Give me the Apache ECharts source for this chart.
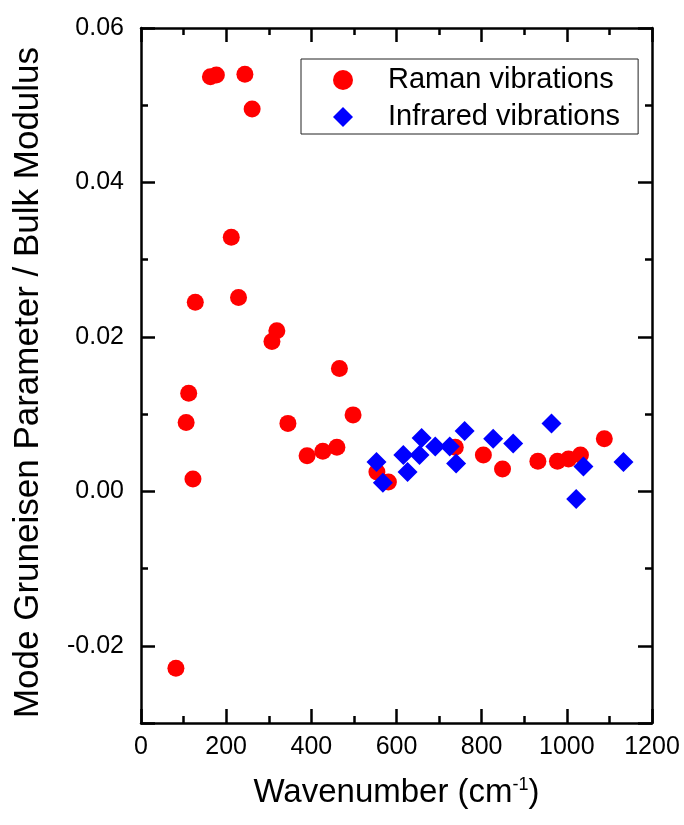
<!DOCTYPE html>
<html>
<head>
<meta charset="utf-8">
<script src="https://cdn.jsdelivr.net/npm/echarts@6/dist/echarts.min.js"></script>
<style>html,body{margin:0;padding:0;background:#fff}#c{width:684px;height:825px}</style>
</head>
<body>
<div id="c"></div>
<script>
const ramanX = [82,106,112,122,127.5,163,177,212,229,244,261,307.5,319,345,390,427,460,466,498,554,581,738,804,849,932,978,1004,1032,1088];
const ramanY = [-0.0229,0.0089,0.0127,0.0016,0.0245,0.0537,0.0539,0.0329,0.0251,0.054,0.0495,0.0194,0.0208,0.0088,0.0046,0.0052,0.0057,0.0159,0.0099,0.0025,0.0012,0.0057,0.0047,0.0029,0.0039,0.0039,0.0042,0.0047,0.0068];
const irX = [553,568,616,626,654,659,691,725,740,760,827,874,964,1022,1039,1133];
const irY = [0.0038,0.0011,0.0047,0.0025,0.0047,0.0069,0.0058,0.0058,0.0036,0.0078,0.0068,0.0062,0.0088,-0.0010,0.0032,0.0038];
const seriesNames = ['Raman vibrations','Infrared vibrations'];
const xTitle = 'Wavenumber (cm{sup|-1})';
const yTitle = 'Mode Gruneisen Parameter / Bulk Modulus';

const FONT = 'Liberation Sans, Arial, sans-serif';
const chart = echarts.init(document.getElementById('c'));
const lineStyle = {color:'#000', width:2.5};
function xAx(pos, labels){
  return {
    type:'value', position:pos, min:0, max:1200, interval:200,
    axisLine:{show:true, onZero:false, lineStyle}, splitLine:{show:false},
    axisTick:{show:true, inside:true, length:14, lineStyle},
    minorTick:{show:true, splitNumber:2, length:7, lineStyle},
    axisLabel:{show:labels, margin:12, fontSize:25, color:'#000', fontFamily:FONT,
      formatter: v => String(v)},
    name: labels ? xTitle : '', nameLocation:'middle', nameGap:53,
    nameTextStyle:{fontSize:33, color:'#000', fontFamily:FONT,
      rich:{sup:{fontSize:18, color:'#000', fontFamily:FONT, verticalAlign:'top', lineHeight:14}}}
  };
}
function yMajor(pos, labels){
  return {
    type:'value', position:pos, min:-0.03, max:0.06,
    axisLine:{show:true, onZero:false, lineStyle}, splitLine:{show:false},
    axisTick:{show:true, inside:true, length:14, lineStyle},
    axisLabel:{show:labels, margin:17, fontSize:25, color:'#000', fontFamily:FONT,
      formatter: v => v < -0.025 ? '' : v.toFixed(2)},
    name: labels ? yTitle : '', nameLocation:'middle', nameGap:95,
    nameTextStyle:{fontSize:35, color:'#000', fontFamily:FONT, padding:[0,14,0,0]}
  };
}
function yMinor(pos){
  return {
    type:'value', position:pos, min:-0.03, max:0.06, interval:0.01,
    axisLine:{show:false, onZero:false}, splitLine:{show:false},
    axisTick:{show:true, inside:true, length:7, lineStyle},
    axisLabel:{show:false}
  };
}
chart.setOption({
  backgroundColor:'#fff',
  animation:false,
  grid:{left:141, right:32, top:28, bottom:102, containLabel:false},
  xAxis:[xAx('bottom', true), xAx('top', false)],
  yAxis:[yMajor('left', true), yMajor('right', false), yMinor('left'), yMinor('right')],
  legend:{
    orient:'vertical', left:301, top:59,
    data:[{name:seriesNames[0], icon:'circle'},{name:seriesNames[1], icon:'diamond'}],
    itemWidth:20, itemHeight:20, itemGap:7,
    padding:[6,18,2,32],
    borderColor:'#222', borderWidth:1,
    formatter: name => '{s|}' + name,
    textStyle:{fontSize:29, color:'#000', fontFamily:FONT, lineHeight:30,
      rich:{s:{width:30}}}
  },
  series:[
    {name:seriesNames[0], type:'scatter', xAxisIndex:0, yAxisIndex:0, symbol:'circle', symbolSize:17,
     itemStyle:{color:'#ff0000', opacity:1}, data: ramanX.map((x,i)=>[x, ramanY[i]])},
    {name:seriesNames[1], type:'scatter', xAxisIndex:0, yAxisIndex:0, symbol:'diamond', symbolSize:20,
     itemStyle:{color:'#0000ff', opacity:1}, data: irX.map((x,i)=>[x, irY[i]])}
  ]
});
</script>
</body>
</html>
